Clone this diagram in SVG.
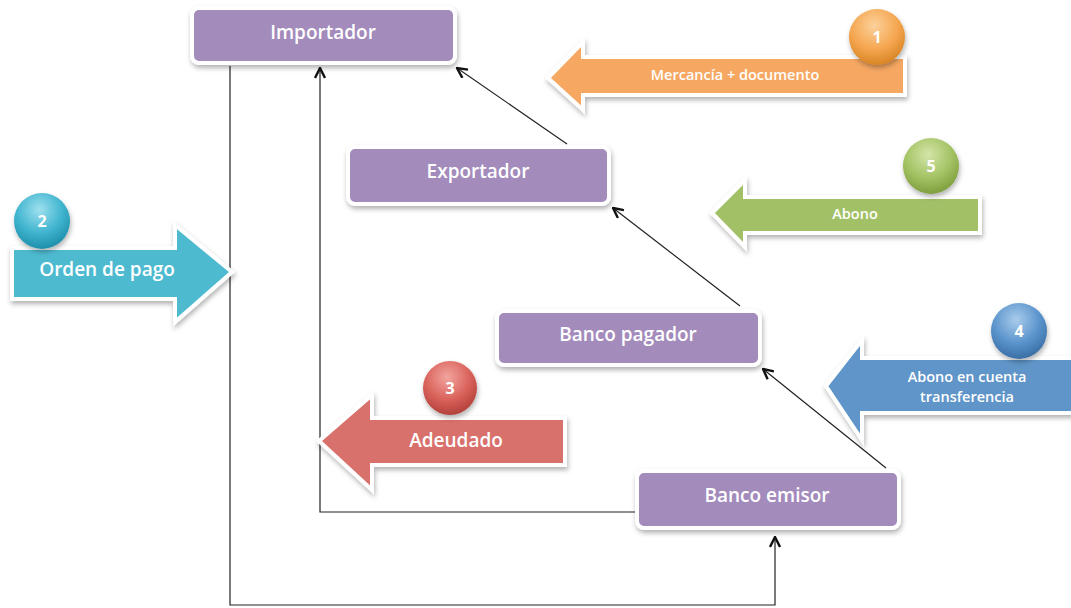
<svg xmlns="http://www.w3.org/2000/svg" width="1071" height="608" viewBox="0 0 1071 608">
<defs>
<style>
.box{fill:#A38BBC;stroke:#fff;stroke-width:4;filter:url(#sh)}
.lbl{font-family:"Open Sans","Liberation Sans",sans-serif;font-weight:600;fill:#fff;text-anchor:middle}
.big{font-size:19px}
.sm{font-size:14.5px}
.num{font-family:"Open Sans","Liberation Sans",sans-serif;font-weight:700;fill:#fff;text-anchor:middle;font-size:16px}
.conn{fill:none;stroke:#222;stroke-width:1.2}
.blk{stroke:#fff;stroke-width:4;filter:url(#sh)}
</style>
<filter id="sh" x="-20%" y="-20%" width="140%" height="150%">
<feDropShadow dx="1" dy="3" stdDeviation="2.5" flood-color="#000" flood-opacity="0.3"/>
</filter>
<marker id="ah" viewBox="0 0 12 12" refX="11" refY="6" markerWidth="12" markerHeight="12" markerUnits="userSpaceOnUse" orient="auto">
<path d="M1,1 L11,6 L1,11" fill="none" stroke="#111" stroke-width="2.4"/>
</marker>
<radialGradient id="gO" cx="45%" cy="30%" r="70%"><stop offset="0" stop-color="#FCD29B"/><stop offset="0.6" stop-color="#F5A650"/><stop offset="1" stop-color="#D88525"/></radialGradient>
<radialGradient id="gG" cx="45%" cy="30%" r="70%"><stop offset="0" stop-color="#D4E5A8"/><stop offset="0.6" stop-color="#A3C263"/><stop offset="1" stop-color="#7F9E3F"/></radialGradient>
<radialGradient id="gB" cx="45%" cy="30%" r="70%"><stop offset="0" stop-color="#A9CCEB"/><stop offset="0.6" stop-color="#5A93CC"/><stop offset="1" stop-color="#3A6FA5"/></radialGradient>
<radialGradient id="gR" cx="45%" cy="30%" r="70%"><stop offset="0" stop-color="#F2A49E"/><stop offset="0.6" stop-color="#D9625B"/><stop offset="1" stop-color="#B2413B"/></radialGradient>
<radialGradient id="gT" cx="45%" cy="30%" r="70%"><stop offset="0" stop-color="#9EE0EE"/><stop offset="0.6" stop-color="#3FB4CF"/><stop offset="1" stop-color="#1F8FAB"/></radialGradient>
</defs>
<rect width="1071" height="608" fill="#fff"/>

<g id="connectors">
<polyline class="conn" points="230,66 230,605 775,605 775,537" marker-end="url(#ah)"/>
<polyline class="conn" points="637,512 320,512 320,68" marker-end="url(#ah)"/>
<line class="conn" x1="567" y1="144" x2="457" y2="68" marker-end="url(#ah)"/>
<line class="conn" x1="740" y1="306" x2="613" y2="208" marker-end="url(#ah)"/>
<line class="conn" x1="886" y1="468" x2="763" y2="369" marker-end="url(#ah)"/>
</g>

<g id="step1">
<path class="blk" fill="#F6A862" d="M548,78 L583,42 L583,57 L905,57 L905,95 L583,95 L583,110 Z"/>
<circle cx="877" cy="37" r="28" fill="url(#gO)" filter="url(#sh)"/>
<text class="num" x="877" y="43">1</text>
<text class="lbl sm" x="735" y="80">Mercancía + documento</text>
</g>

<g id="step5">
<path class="blk" fill="#A2C066" d="M712,213 L745,180 L745,197 L980,197 L980,233 L745,233 L745,247 Z"/>
<circle cx="931" cy="166" r="28" fill="url(#gG)" filter="url(#sh)"/>
<text class="num" x="931" y="172">5</text>
<text class="lbl sm" x="855" y="219">Abono</text>
</g>

<g id="step4">
<path class="blk" fill="#5F95C8" d="M826,386 L862,340 L862,358 L1073,358 L1073,413 L862,413 L862,440 Z"/>
<circle cx="1019" cy="331" r="28" fill="url(#gB)" filter="url(#sh)"/>
<text class="num" x="1019" y="337">4</text>
<text class="lbl sm" x="967" y="382">Abono en cuenta</text>
<text class="lbl sm" x="967" y="402">transferencia</text>
</g>

<g id="step3">
<path class="blk" fill="#D8706C" d="M319,441 L372,395 L372,418 L565,418 L565,465 L372,465 L372,490 Z"/>
<circle cx="450" cy="388" r="27" fill="url(#gR)" filter="url(#sh)"/>
<text class="num" x="450" y="394">3</text>
<text class="lbl big" x="456" y="447">Adeudado</text>
</g>

<g id="step2">
<path class="blk" fill="#4DBAD0" d="M12,248 L175,248 L175,225 L232,272 L175,322 L175,299 L12,299 Z"/>
<circle cx="42" cy="221" r="28" fill="url(#gT)" filter="url(#sh)"/>
<text class="num" x="42" y="227">2</text>
<text class="lbl big" x="107" y="276">Orden de pago</text>
</g>

<g id="importador">
<rect class="box" x="192" y="8" width="263" height="55" rx="7"/>
<text class="lbl big" x="323" y="39">Importador</text>
</g>
<g id="exportador">
<rect class="box" x="348" y="147" width="261" height="57" rx="7"/>
<text class="lbl big" x="478" y="178">Exportador</text>
</g>
<g id="banco-pagador">
<rect class="box" x="497" y="311" width="263" height="54" rx="7"/>
<text class="lbl big" x="628" y="341">Banco pagador</text>
</g>
<g id="banco-emisor">
<rect class="box" x="637" y="471" width="262" height="57" rx="7"/>
<text class="lbl big" x="767" y="502">Banco emisor</text>
</g>
</svg>
